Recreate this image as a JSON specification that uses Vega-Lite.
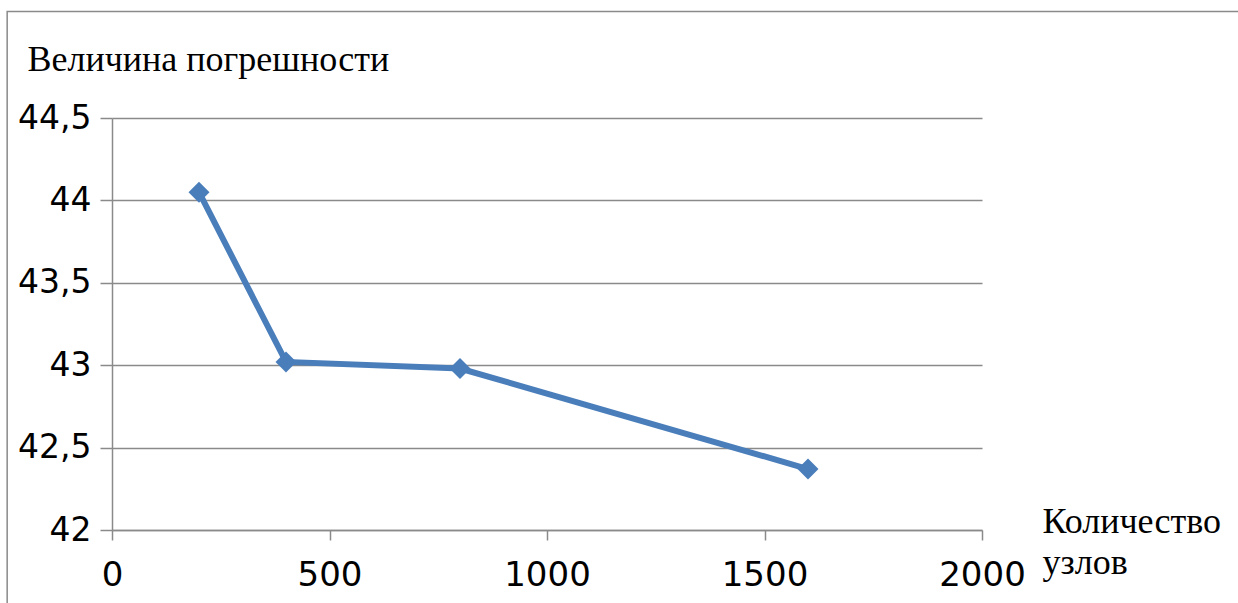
{
  "$schema": "https://vega.github.io/schema/vega-lite/v6.json",
  "autosize": {"type": "none"},
  "width": 870,
  "height": 412,
  "padding": {"left": 112, "top": 118, "right": 256, "bottom": 73},
  "background": "white",
  "config": {"view": {"stroke": null}},
  "datasets": {
    "errors": [
      {"nodes": 200, "error": 44.05},
      {"nodes": 400, "error": 43.02},
      {"nodes": 800, "error": 42.98},
      {"nodes": 1600, "error": 42.37}
    ],
    "frame": [
      {"x0": -241, "x1": 2700, "y0": 45.146, "y1": 41.3}
    ]
  },
  "layer": [
    {
      "data": {"name": "frame"},
      "mark": {"type": "rect", "fill": null, "stroke": "#8a8a8a", "strokeWidth": 1.5, "clip": false},
      "encoding": {
        "x": {"field": "x0", "type": "quantitative"},
        "x2": {"field": "x1"},
        "y": {"field": "y0", "type": "quantitative"},
        "y2": {"field": "y1"}
      }
    },
    {
      "data": {"name": "errors"},
      "mark": {
        "type": "line",
        "color": "#4a7ebb",
        "strokeWidth": 6,
        "point": {"shape": "diamond", "size": 440, "filled": true, "color": "#4a7ebb", "opacity": 1}
      },
      "encoding": {
        "x": {
          "field": "nodes",
          "type": "quantitative",
          "scale": {"domain": [0, 2000], "nice": false, "zero": false},
          "axis": {
            "values": [0, 500, 1000, 1500, 2000],
            "format": "d",
            "grid": false,
            "domainColor": "#8a8a8a",
            "domainWidth": 1.5,
            "tickColor": "#8a8a8a",
            "tickWidth": 1.5,
            "tickSize": 10,
            "labelFont": "DejaVu Sans",
            "labelFontSize": 34,
            "labelColor": "#000000",
            "labelPadding": 18,
            "labelFlush": false,
            "labelOverlap": false,
            "title": ["Количество", "узлов"],
            "titleFont": "Liberation Serif",
            "titleFontSize": 36,
            "titleFontWeight": "normal",
            "titleColor": "#000000",
            "titleAlign": "left",
            "titleBaseline": "alphabetic",
            "titleLineHeight": 41,
            "titleX": 930,
            "titleY": 2
          }
        },
        "y": {
          "field": "error",
          "type": "quantitative",
          "scale": {"domain": [42, 44.5], "nice": false, "zero": false},
          "axis": {
            "values": [42, 42.5, 43, 43.5, 44, 44.5],
            "labelExpr": "replace(format(datum.value, '~g'), '.', ',')",
            "grid": true,
            "gridColor": "#8a8a8a",
            "gridWidth": 1.5,
            "domainColor": "#8a8a8a",
            "domainWidth": 1.5,
            "tickColor": "#8a8a8a",
            "tickWidth": 1.5,
            "tickSize": 12,
            "labelFont": "DejaVu Sans",
            "labelFontSize": 33,
            "labelColor": "#000000",
            "labelPadding": 9,
            "labelFlush": false,
            "labelOverlap": false,
            "title": "Величина погрешности",
            "titleFont": "Liberation Serif",
            "titleFontSize": 36,
            "titleFontWeight": "normal",
            "titleColor": "#000000",
            "titleAngle": 0,
            "titleAlign": "left",
            "titleBaseline": "alphabetic",
            "titleX": -85,
            "titleY": -48
          }
        }
      }
    }
  ]
}
